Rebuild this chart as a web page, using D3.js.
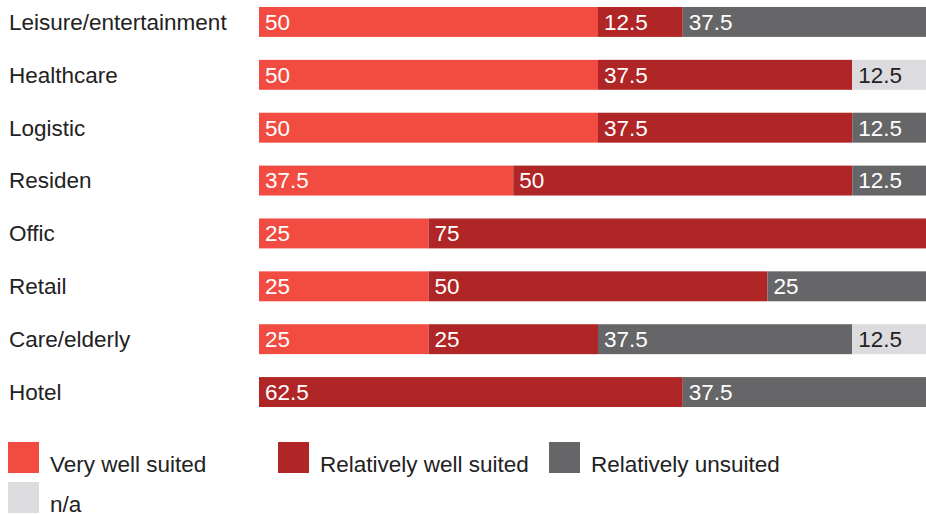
<!DOCTYPE html>
<html>
<head>
<meta charset="utf-8">
<script src="https://cdn.jsdelivr.net/npm/d3@7"></script>
<style>
  body { margin: 0; background: #fff; }
  svg { display: block; font-family: "Liberation Sans", Arial, sans-serif; }
</style>
</head>
<body>
<div id="chart"></div>
<script>
// categories top to bottom
var categories = ["Leisure/entertainment", "Healthcare", "Logistic", "Residen",
  "Offic", "Retail", "Care/elderly", "Hotel"];

// series values (percent)
var veryWell     = [50, 50, 50, 37.5, 25, 25, 25, 0];
var relWell      = [12.5, 37.5, 37.5, 50, 75, 50, 25, 62.5];
var relUnsuited  = [37.5, 0, 12.5, 12.5, 0, 25, 37.5, 37.5];
var notAvailable = [0, 12.5, 0, 0, 0, 0, 12.5, 0];

var seriesNames = ["Very well suited", "Relatively well suited", "Relatively unsuited", "n/a"];
var seriesKeys = ["veryWell", "relWell", "relUnsuited", "na"];
var colors = ["#f24c42", "#b02525", "#666668", "#dcdcde"];
var labelColors = ["#fff", "#fff", "#fff", "#222"];

var svgWidth = 926, svgHeight = 515;

var svg = d3.select("#chart")
  .append("svg")
  .attr("width", svgWidth)
  .attr("height", svgHeight);

// build table for the stack
var table = categories.map(function(c, i) {
  return { cat: c, veryWell: veryWell[i], relWell: relWell[i],
           relUnsuited: relUnsuited[i], na: notAvailable[i] };
});

var stack = d3.stack().keys(seriesKeys);
var stacked = stack(table);

// the plot runs a little past the right edge, as in the original
var x = d3.scaleLinear()
  .domain([0, 100])
  .range([259, 937]);

var y = d3.scaleBand()
  .domain(categories)
  .range([-4.5, 418.5])
  .paddingInner(0.434)
  .paddingOuter(0.217);

// category labels
svg.append("g")
  .selectAll("text")
  .data(categories)
  .enter()
  .append("text")
  .attr("x", 9)
  .attr("y", d => y(d) + y.bandwidth() / 2)
  .attr("dy", "0.35em")
  .attr("font-size", "22.5px")
  .attr("fill", "#222")
  .text(d => d);

// bars
var layers = svg.append("g")
  .selectAll("g")
  .data(stacked)
  .enter()
  .append("g")
  .attr("fill", (d, i) => colors[i]);

layers.selectAll("rect")
  .data(d => d.filter(p => p[1] - p[0] > 0))
  .enter()
  .append("rect")
  .attr("x", d => x(d[0]))
  .attr("y", d => y(d.data.cat))
  .attr("width", d => x(d[1]) - x(d[0]))
  .attr("height", y.bandwidth());

// value labels inside bars
layers.selectAll("text")
  .data((d, i) => d.filter(p => p[1] - p[0] > 0).map(p => ({ p: p, s: i })))
  .enter()
  .append("text")
  .attr("x", d => x(d.p[0]) + 6)
  .attr("y", d => y(d.p.data.cat) + y.bandwidth() / 2)
  .attr("dy", "0.35em")
  .attr("font-size", "22.5px")
  .attr("fill", d => labelColors[d.s])
  .text(d => d.p[1] - d.p[0]);

// legend
var legendPos = [[8, 442], [278, 442], [549, 442], [8, 482]];

var legend = svg.append("g")
  .selectAll("g")
  .data(seriesNames)
  .enter()
  .append("g")
  .attr("transform", (d, i) => `translate(${legendPos[i][0]}, ${legendPos[i][1]})`);

legend.append("rect")
  .attr("width", 31)
  .attr("height", 31)
  .attr("fill", (d, i) => colors[i]);

legend.append("text")
  .attr("x", 42)
  .attr("y", 30)
  .attr("font-size", "22.5px")
  .attr("fill", "#222")
  .text(d => d);
</script>
</body>
</html>
